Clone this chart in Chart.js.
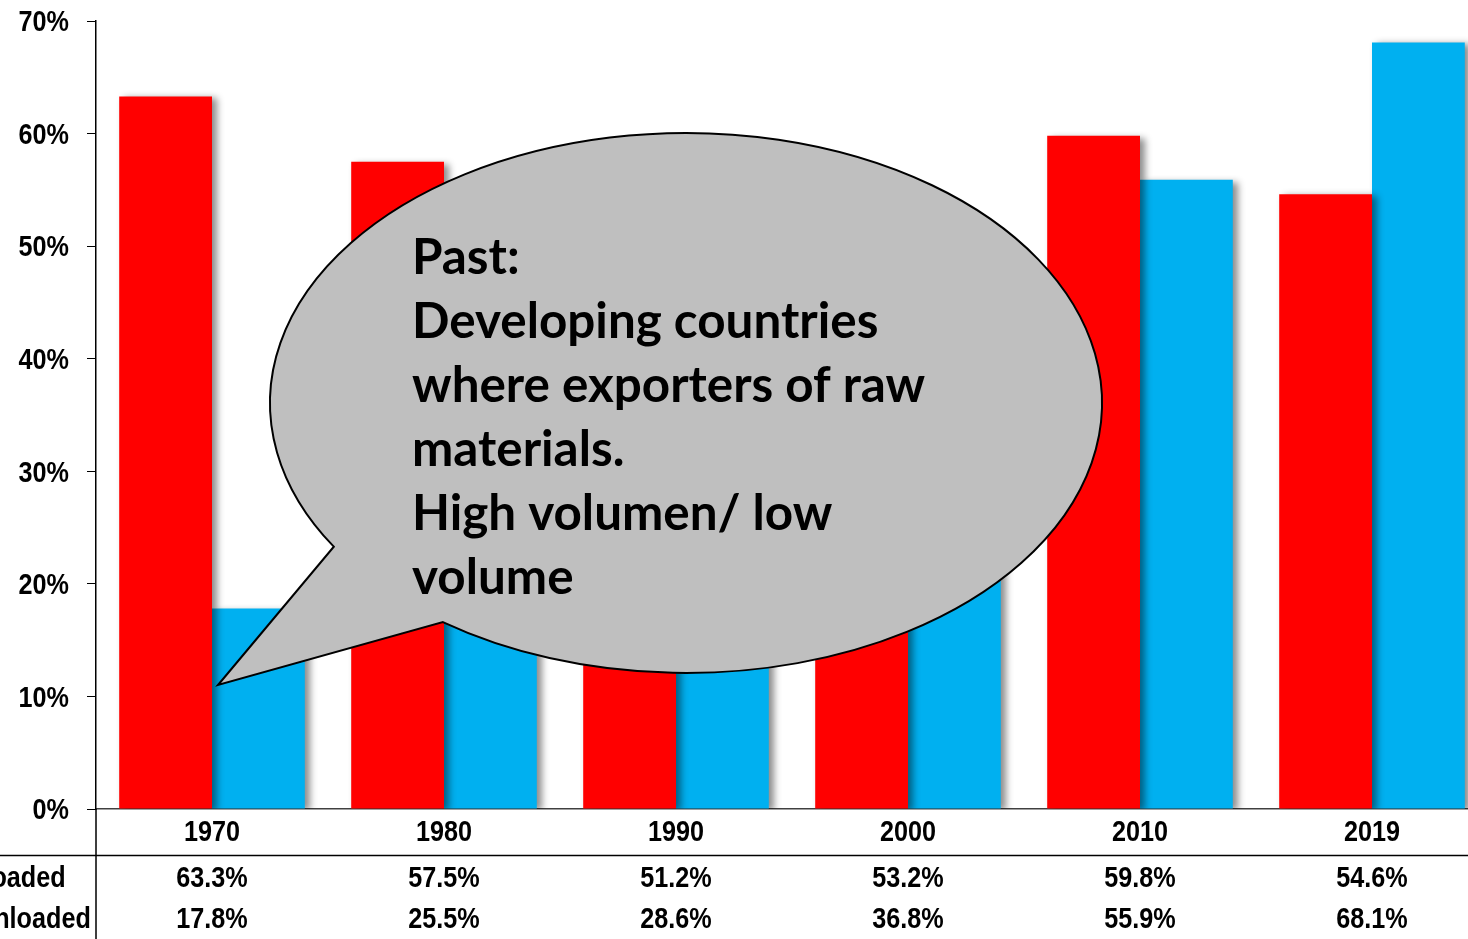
<!DOCTYPE html>
<html>
<head>
<meta charset="utf-8">
<script src="https://cdn.jsdelivr.net/npm/chart.js@4/dist/chart.umd.min.js"></script>
<style>
html,body{margin:0;padding:0;background:#fff;overflow:hidden;}
#wrap{position:absolute;left:0;top:0;width:1490px;height:939px;}
</style>
</head>
<body>
<div id="wrap"><canvas id="c" width="1490" height="939"></canvas></div>
<script>
const categories = ['1970', '1980', '1990', '2000', '2010', '2019'];
const loaded = [63.3, 57.5, 51.2, 53.2, 59.8, 54.6];
const unloaded = [17.8, 25.5, 28.6, 36.8, 55.9, 68.1];
const seriesNames = ['Loaded', 'Unloaded'];
const yTicks = [0, 10, 20, 30, 40, 50, 60, 70];
const bubbleLines = ['Past:', 'Developing countries', 'where exporters of raw', 'materials.', 'High volumen/ low', 'volume'];

const fontStr = 'bold 30px "Liberation Sans", Arial, sans-serif';
const NARROW = 0.84;

function narrowText(ctx, text, x, y, align) {
  ctx.save();
  ctx.translate(x, y);
  ctx.scale(NARROW, 1);
  ctx.font = fontStr;
  ctx.fillStyle = '#000';
  ctx.textAlign = align;
  ctx.textBaseline = 'middle';
  ctx.fillText(text, 0, 0);
  ctx.restore();
}

const shadowPlugin = {
  id: 'shadow',
  beforeDatasetsDraw(chart) {
    const ctx = chart.ctx;
    ctx.save();
    ctx.shadowColor = 'rgba(0,0,0,0.45)';
    ctx.shadowBlur = 7;
    ctx.shadowOffsetX = 5;
    ctx.shadowOffsetY = 2;
  },
  afterDatasetsDraw(chart) { chart.ctx.restore(); }
};

const tablePlugin = {
  id: 'table',
  afterDraw(chart) {
    const ctx = chart.ctx;
    const x = chart.scales.x, y = chart.scales.y;
    const left = chart.chartArea.left;
    ctx.save();
    ctx.strokeStyle = '#000';
    ctx.lineWidth = 1.5;
    ctx.beginPath();
    ctx.moveTo(left, chart.chartArea.bottom);
    ctx.lineTo(left, chart.height);
    ctx.moveTo(0, 855.5);
    ctx.lineTo(chart.width, 855.5);
    ctx.stroke();
    ctx.restore();
    y.ticks.forEach(t => narrowText(ctx, t.value + '%', 69, y.getPixelForValue(t.value) + 2, 'right'));
    categories.forEach((c, i) => narrowText(ctx, c, x.getPixelForValue(i), 833, 'center'));
    const rows = [loaded, unloaded];
    const rowY = [879, 920];
    rows.forEach((arr, r) => {
      narrowText(ctx, seriesNames[r], -24, rowY[r], 'left');
      arr.forEach((v, i) => narrowText(ctx, v.toFixed(1) + '%', x.getPixelForValue(i), rowY[r], 'center'));
    });
  }
};

const bubblePlugin = {
  id: 'bubble',
  afterDraw(chart) {
    const ctx = chart.ctx;
    ctx.save();
    const cx = 686, cy = 403, rx = 416, ry = 270;
    const a1 = Math.atan2((547 - cy) / ry, (333 - cx) / rx);
    const a2 = Math.atan2((622 - cy) / ry, (443 - cx) / rx);
    ctx.beginPath();
    ctx.ellipse(cx, cy, rx, ry, 0, a1, a2 + 2 * Math.PI, false);
    ctx.lineTo(218, 685);
    ctx.closePath();
    ctx.fillStyle = '#BFBFBF';
    ctx.fill();
    ctx.strokeStyle = '#000';
    ctx.lineWidth = 2;
    ctx.lineJoin = 'miter';
    ctx.stroke();
    const fam = 'Lato, "Open Sans", "Liberation Sans", sans-serif';
    ctx.font = 'bold 44px ' + fam;
    const w = ctx.measureText(bubbleLines[1]).width;
    const size = 44 * 466 / w;
    ctx.font = 'bold ' + size.toFixed(1) + 'px ' + fam;
    ctx.fillStyle = '#000';
    ctx.textAlign = 'left';
    ctx.textBaseline = 'middle';
    bubbleLines.forEach((t, i) => ctx.fillText(t, 412, 258 + i * 64));
    ctx.restore();
  }
};

new Chart(document.getElementById('c'), {
  type: 'bar',
  data: {
    labels: categories,
    datasets: [
      {label: seriesNames[0], data: loaded, backgroundColor: '#FF0000', borderWidth: 0},
      {label: seriesNames[1], data: unloaded, backgroundColor: '#00B0F0', borderWidth: 0}
    ]
  },
  options: {
    responsive: false,
    animation: false,
    devicePixelRatio: 1,
    layout: {padding: {top: 21, left: 0, right: 2, bottom: 0}},
    plugins: {legend: {display: false}, tooltip: {enabled: false}},
    datasets: {bar: {categoryPercentage: 0.8, barPercentage: 1.0}},
    scales: {
      x: {
        grid: {display: true, drawOnChartArea: false, drawTicks: false},
        border: {color: '#404040', width: 1.5},
        ticks: {display: false},
        afterFit(s) { s.height = 130; }
      },
      y: {
        min: 0, max: 70,
        afterBuildTicks(s) { s.ticks = yTicks.map(v => ({value: v})); },
        grid: {display: true, drawOnChartArea: false, drawTicks: true, tickLength: 9, color: '#000'},
        border: {color: '#000', width: 1.5},
        ticks: {display: false},
        afterFit(s) { s.width = 96; }
      }
    }
  },
  plugins: [shadowPlugin, tablePlugin, bubblePlugin]
});
</script>
</body>
</html>
